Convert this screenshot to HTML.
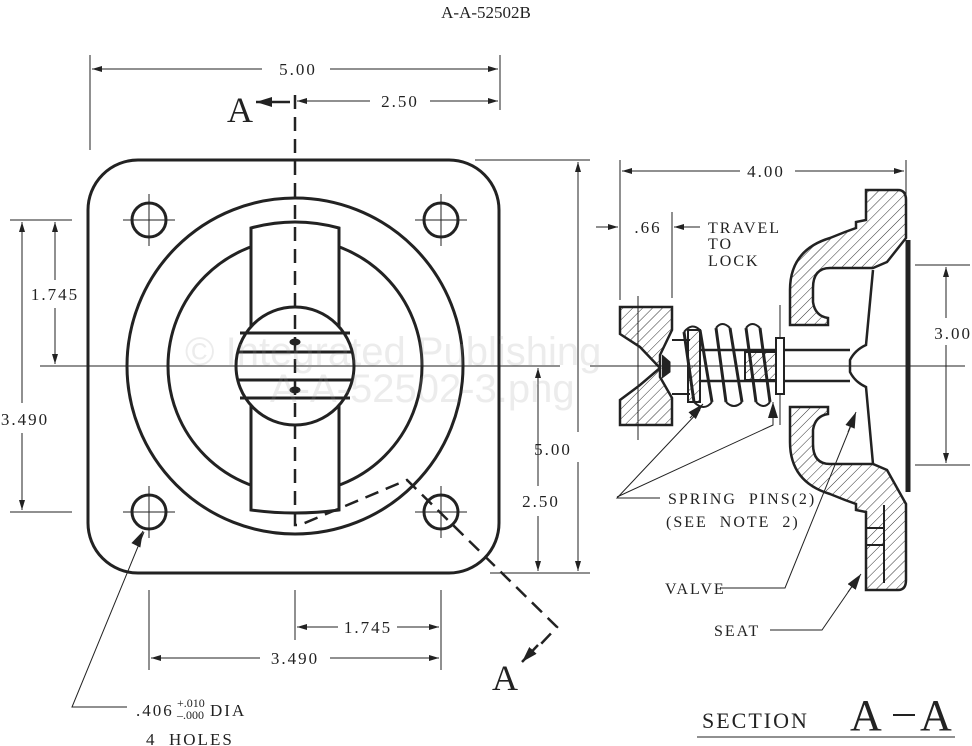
<!DOCTYPE html>
<html><head><style>
html,body{margin:0;padding:0;background:#fff}
svg{display:block}
text{font-family:"Liberation Serif",serif;fill:#222}
</style></head><body>
<svg width="972" height="746" viewBox="0 0 972 746" xmlns="http://www.w3.org/2000/svg">
<defs>
<marker id="ar" viewBox="0 0 10 6" refX="10" refY="3" markerWidth="10" markerHeight="6" orient="auto-start-reverse" markerUnits="userSpaceOnUse"><path d="M0,0 L10,3 L0,6 z" fill="#222"/></marker>
<marker id="ab" viewBox="0 0 16 10" refX="16" refY="5" markerWidth="16" markerHeight="10" orient="auto" markerUnits="userSpaceOnUse"><path d="M0,0 L16,5 L0,10 z" fill="#222"/></marker>
<pattern id="h" width="7" height="7" patternUnits="userSpaceOnUse" patternTransform="rotate(45)"><line x1="0" y1="0" x2="0" y2="7" stroke="#333" stroke-width="1"/></pattern>
</defs>
<text x="486" y="18" font-size="17" text-anchor="middle">A-A-52502B</text>

<g stroke="#222" fill="none">
<!-- front view -->
<rect x="88" y="160" width="411" height="413" rx="50" stroke-width="3"/>
<circle cx="295" cy="366" r="168" stroke-width="3"/>
<circle cx="295" cy="366" r="127" stroke-width="3"/>
<path d="M251,228 Q295,216 339,228 V510 Q295,516 251,510 Z" fill="#fff" stroke-width="3"/>
<circle cx="295" cy="366" r="59" fill="#fff" stroke-width="3"/>
<g stroke-width="3"><line x1="240" y1="333" x2="350" y2="333"/><line x1="237" y1="352" x2="353" y2="352"/><line x1="237" y1="380" x2="353" y2="380"/><line x1="240" y1="398" x2="350" y2="398"/></g>
<ellipse cx="295" cy="342" rx="5" ry="3" fill="#222"/><ellipse cx="295" cy="390" rx="5" ry="3" fill="#222"/>
<g stroke-width="3"><circle cx="149" cy="220" r="17"/><circle cx="441" cy="220" r="17"/><circle cx="149" cy="512" r="17"/><circle cx="441" cy="512" r="17"/></g>
<g stroke-width="1"><path d="M123,220h52M149,194v52M415,220h52M441,194v52M123,512h52M149,486v52M415,512h52M441,486v52"/>
<line x1="40" y1="366" x2="560" y2="366"/>
</g>
<!-- section line -->
<g stroke-width="2.5" stroke-dasharray="14,8"><path d="M295,95 V525 L300,525 L407,480 L557,627 L540,645"/></g>
<line x1="538" y1="645" x2="522" y2="662" stroke-width="2.5" marker-end="url(#ab)"/>
<line x1="290" y1="102" x2="256" y2="102" stroke-width="2.5" marker-end="url(#ab)"/>

<!-- dims front -->
<g stroke-width="1">
<line x1="90" y1="55" x2="90" y2="150"/><line x1="500" y1="55" x2="500" y2="110"/>
<line x1="92" y1="69" x2="262" y2="69" marker-start="url(#ar)"/><line x1="330" y1="69" x2="498" y2="69" marker-end="url(#ar)"/>
<line x1="297" y1="101" x2="370" y2="101" marker-start="url(#ar)"/><line x1="430" y1="101" x2="498" y2="101" marker-end="url(#ar)"/>
<line x1="10" y1="220" x2="72" y2="220"/><line x1="10" y1="512" x2="72" y2="512"/>
<line x1="55" y1="222" x2="55" y2="280" marker-start="url(#ar)"/><line x1="55" y1="308" x2="55" y2="364" marker-end="url(#ar)"/>
<line x1="22" y1="222" x2="22" y2="403" marker-start="url(#ar)"/><line x1="22" y1="433" x2="22" y2="510" marker-end="url(#ar)"/>
<line x1="475" y1="160" x2="590" y2="160"/><line x1="490" y1="573" x2="590" y2="573"/>
<line x1="578" y1="162" x2="578" y2="432" marker-start="url(#ar)"/><line x1="578" y1="462" x2="578" y2="571" marker-end="url(#ar)"/>
<line x1="538" y1="368" x2="538" y2="486" marker-start="url(#ar)"/><line x1="538" y1="516" x2="538" y2="571" marker-end="url(#ar)"/>
<line x1="149" y1="590" x2="149" y2="670"/><line x1="295" y1="590" x2="295" y2="640"/><line x1="441" y1="590" x2="441" y2="670"/>
<line x1="297" y1="627" x2="338" y2="627" marker-start="url(#ar)"/><line x1="397" y1="627" x2="439" y2="627" marker-end="url(#ar)"/>
<line x1="151" y1="658" x2="260" y2="658" marker-start="url(#ar)"/><line x1="330" y1="658" x2="439" y2="658" marker-end="url(#ar)"/>
<path d="M127,707 H72 L144,532"/>
</g>
<line x1="136" y1="545" x2="143" y2="531" stroke-width="1" marker-end="url(#ab)"/>

<!-- section view -->
<g stroke-width="1"><line x1="590" y1="366" x2="965" y2="366"/>
<line x1="620" y1="160" x2="620" y2="300"/><line x1="906" y1="160" x2="906" y2="232"/>
<line x1="672" y1="212" x2="672" y2="298"/>
<line x1="622" y1="171" x2="740" y2="171" marker-start="url(#ar)"/><line x1="795" y1="171" x2="904" y2="171" marker-end="url(#ar)"/>
<line x1="596" y1="227" x2="618" y2="227" marker-end="url(#ar)"/><line x1="700" y1="227" x2="674" y2="227" marker-end="url(#ar)"/>
<line x1="915" y1="265" x2="970" y2="265"/><line x1="915" y1="465" x2="970" y2="465"/>
<line x1="946" y1="267" x2="946" y2="318" marker-start="url(#ar)"/><line x1="946" y1="345" x2="946" y2="463" marker-end="url(#ar)"/>
<line x1="638" y1="296" x2="638" y2="440"/>
<line x1="780" y1="305" x2="780" y2="425"/>
</g>
<!-- housing -->
<path d="M866,190 H898 Q906,190 906,200 V238 L887,262 L873,268 H830 Q813,268 813,288 V302 Q815,316 828,318 V325 H790 V290 Q790,250 830,238 L845,232 L856,228 V222 L866,220 Z" fill="url(#h)" stroke-width="2.5"/>
<path d="M873,464 H830 Q813,464 813,444 V430 Q815,416 828,414 V407 H790 V442 Q790,482 830,494 L845,500 L856,504 V510 L866,512 V590 H898 Q906,590 906,580 V504 L887,470 Z" fill="url(#h)" stroke-width="2.5"/>
<path d="M884,505 V583 M866,528 H884 M866,545 H884" stroke-width="2"/>
<line x1="908" y1="240" x2="908" y2="492" stroke-width="5"/>
<!-- valve -->
<path d="M873,270 L866,345 Q855,350 850,360 V372 Q855,382 866,387 L873,464" stroke-width="2.5"/>
<path d="M700,350 H850 M700,381 H850" stroke-width="2.5"/>
<path d="M745,352 H780 V380 H745 Z" fill="url(#h)" stroke-width="2"/>
<rect x="776" y="338" width="8" height="56" fill="#fff" stroke-width="2"/>
<path d="M688,330 H700 V402 H688 Z" fill="url(#h)" stroke-width="2"/>
<!-- spring -->
<path d="M684,332 L694,402 M700,330 L712,402 M716,328 L726,402 M730,328 L742,402 M746,328 L756,402 M760,328 L770,402" stroke-width="3"/>
<path d="M684,332 Q692,322 700,330 M716,328 Q722,320 730,328 M746,328 Q752,320 760,328 M694,402 Q704,412 712,402 M726,402 Q734,410 742,402 M756,402 Q764,410 770,402" stroke-width="2"/>
<!-- knob -->
<path d="M620,307 H672 V330 L660,355 V377 L672,398 V425 H620 V400 L640,385 L660,368 L640,347 L620,334 Z" fill="url(#h)" stroke-width="2.5"/>
<path d="M662,355 L670,362 V372 L662,378" fill="#222" stroke-width="1"/>
<line x1="672" y1="340" x2="690" y2="340" stroke-width="2"/><line x1="672" y1="394" x2="690" y2="394" stroke-width="2"/>
<!-- leaders -->
<g stroke-width="1">
<path d="M660,498 H617 L700,410"/><path d="M617,497 L773,425 L773,410"/>
<path d="M720,588 H785 L852,423"/>
<path d="M770,630 H822 L853,585"/>
</g>
<line x1="690" y1="418" x2="703" y2="404" stroke-width="1" marker-end="url(#ab)"/>
<line x1="773" y1="420" x2="773" y2="402" stroke-width="1" marker-end="url(#ab)"/>
<line x1="848" y1="432" x2="856" y2="412" stroke-width="1" marker-end="url(#ab)"/>
<line x1="848" y1="592" x2="861" y2="574" stroke-width="1" marker-end="url(#ab)"/>
<line x1="697" y1="737" x2="955" y2="737" stroke-width="1"/>
</g>

<g font-size="17" letter-spacing="2">
<text x="298" y="75" text-anchor="middle">5.00</text>
<text x="400" y="107" text-anchor="middle">2.50</text>
<text x="240" y="122" font-size="36" text-anchor="middle" letter-spacing="0">A</text>
<text x="505" y="690" font-size="36" text-anchor="middle" letter-spacing="0">A</text>
<text x="55" y="300" text-anchor="middle">1.745</text>
<text x="25" y="425" text-anchor="middle">3.490</text>
<text x="553" y="455" text-anchor="middle">5.00</text>
<text x="541" y="507" text-anchor="middle">2.50</text>
<text x="368" y="633" text-anchor="middle">1.745</text>
<text x="295" y="664" text-anchor="middle">3.490</text>
<text x="136" y="716">.406</text>
<text x="177" y="707" font-size="12" letter-spacing="0">+.010</text>
<text x="177" y="719" font-size="12" letter-spacing="0">–.000</text>
<text x="210" y="716">DIA</text>
<text x="146" y="745">4&#160;&#160;HOLES</text>
<text x="766" y="177" text-anchor="middle">4.00</text>
<text x="648" y="233" text-anchor="middle">.66</text>
<text x="708" y="233" font-size="16">TRAVEL</text>
<text x="708" y="249" font-size="16">TO</text>
<text x="708" y="266" font-size="16">LOCK</text>
<text x="972" y="339" text-anchor="end">3.00</text>
<text x="668" y="504" font-size="16">SPRING&#160;&#160;PINS(2)</text>
<text x="666" y="527" font-size="16">(SEE&#160;&#160;NOTE&#160;&#160;2)</text>
<text x="665" y="594" font-size="16">VALVE</text>
<text x="714" y="636" font-size="16">SEAT</text>
<text x="702" y="728" font-size="22">SECTION</text>
<text x="850" y="730" font-size="44" letter-spacing="0">A</text>
<line x1="893" y1="715" x2="915" y2="715" stroke="#222" stroke-width="2"/>
<text x="920" y="730" font-size="44" letter-spacing="0">A</text>
</g>
<!-- watermark -->
<text x="185" y="365" font-size="40" style="font-family:'Liberation Sans',sans-serif;fill:#999;opacity:0.18">© Integrated Publishing</text>
<text x="270" y="402" font-size="40" style="font-family:'Liberation Sans',sans-serif;fill:#999;opacity:0.18">A-A-52502-3.png</text>
</svg>
</body></html>
